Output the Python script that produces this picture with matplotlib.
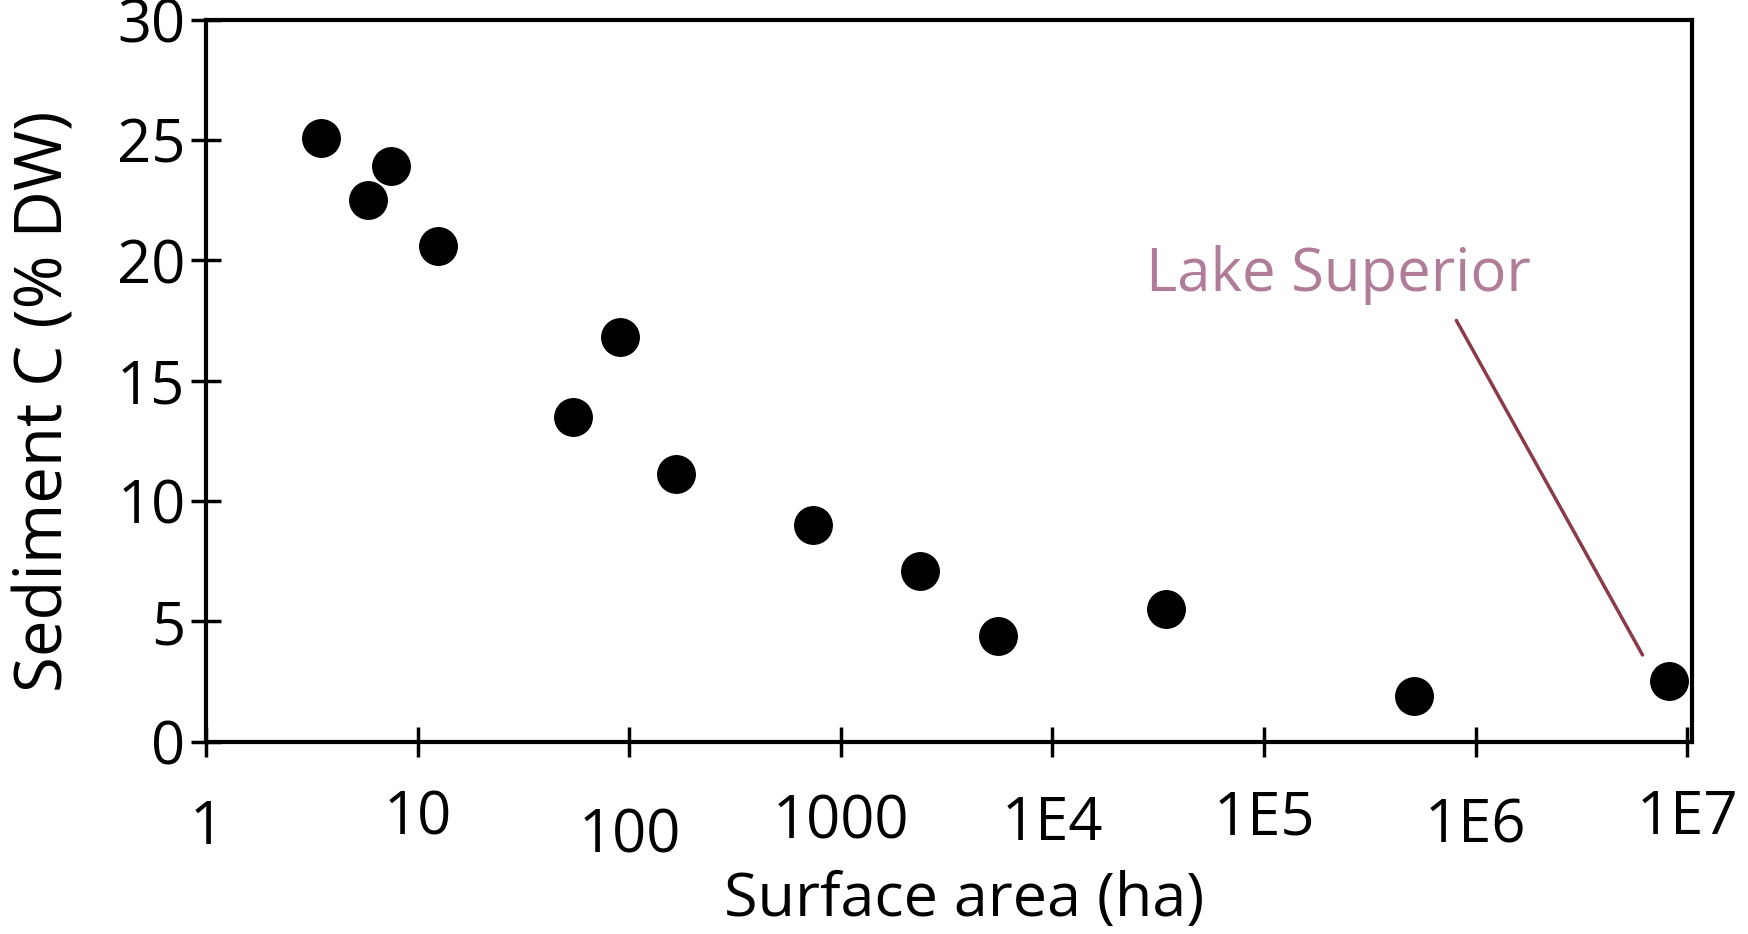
import matplotlib
matplotlib.use("Agg")
import matplotlib.pyplot as plt
import matplotlib.transforms as mtransforms

# surface area (ha) vs sediment carbon (% dry weight)
area = [3.5, 5.8, 7.5, 12.5, 54, 90, 166, 740, 2370, 5500, 34600, 512000, 8.2e6]
carbon = [25.1, 22.5, 23.9, 20.6, 13.5, 16.8, 11.1, 9.0, 7.1, 4.4, 5.5, 1.9, 2.5]

xticks = [1, 10, 100, 1000, 1e4, 1e5, 1e6, 1e7]
xticklabels = ["1", "10", "100", "1000", "1E4", "1E5", "1E6", "1E7"]
yticks = [0, 5, 10, 15, 20, 25, 30]

plt.rcParams["font.family"] = ["Open Sans", "DejaVu Sans"]

fig = plt.figure(figsize=(17.48, 9.34), dpi=100)
ax = fig.add_axes([0.118, 0.206, 0.850, 0.773])

ax.plot(area, carbon, "o", color="black", markersize=27, zorder=3)

ax.set_xscale("log")
ax.set_xlim(1, 1.056e7)
ax.set_ylim(0, 30)
ax.set_xticks(xticks)
ax.set_xticklabels(xticklabels)
ax.minorticks_off()
ax.set_yticks(yticks)

for s in ax.spines.values():
    s.set_linewidth(3)
ax.tick_params(direction="inout", length=22, width=2.5, labelsize=43, colors="black")
ax.tick_params(axis="x", pad=24)
ax.tick_params(axis="y", pad=4)

# the original labels sit slightly uneven under the axis
shifts = [-8, 2, -16, -2, -4, 2, -6, 2]
for lab, dy in zip(ax.get_xticklabels(), shifts):
    lab.set_transform(lab.get_transform() + mtransforms.ScaledTranslation(0, dy / 100, fig.dpi_scale_trans))

ax.set_xlabel("Surface area (ha)", fontsize=44, va="center")
ax.xaxis.set_label_coords(0.51, -0.220)
ax.set_ylabel("Sediment C (% DW)", fontsize=47, va="center")
ax.yaxis.set_label_coords(-0.108, 0.472)

ax.text(2.77e4, 19.4, "Lake Superior", fontsize=43, color="#b07c98", va="center", ha="left")
ax.annotate("", xy=(6.25e6, 3.5), xytext=(8.0e5, 17.6),
            arrowprops=dict(arrowstyle="-", color="#8b3a48", lw=2.5))

fig.savefig("out.png", dpi=100)
